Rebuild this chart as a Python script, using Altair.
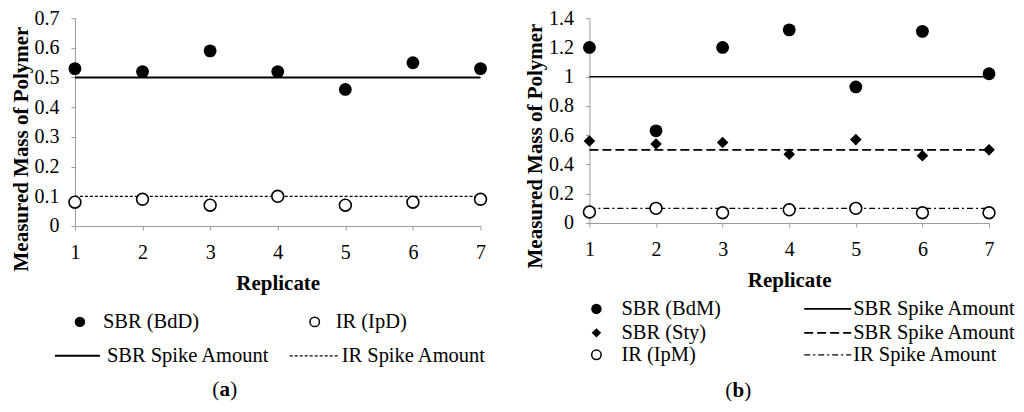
import altair as alt
import pandas as pd

FONT = "Liberation Serif"
GRAY = "#9a9a9a"

# ---------------- data ----------------
replicates = [1, 2, 3, 4, 5, 6, 7]

# panel (a)
a_sbr_bdd = [0.53, 0.52, 0.59, 0.52, 0.46, 0.55, 0.53]
a_ir_ipd = [0.08, 0.09, 0.07, 0.10, 0.07, 0.08, 0.09]
a_sbr_spike = 0.5
a_ir_spike = 0.1
a_yticks = [0, 0.1, 0.2, 0.3, 0.4, 0.5, 0.6, 0.7]

# panel (b)
b_sbr_bdm = [1.20, 0.63, 1.20, 1.32, 0.93, 1.31, 1.02]
b_sbr_sty = [0.56, 0.54, 0.55, 0.47, 0.57, 0.46, 0.50]
b_ir_ipm = [0.075, 0.10, 0.07, 0.09, 0.10, 0.07, 0.07]
b_sbr_spike = 1.0
b_sty_spike = 0.5
b_ir_spike = 0.1
b_yticks = [0, 0.2, 0.4, 0.6, 0.8, 1.0, 1.2, 1.4]

# titles, legend and caption texts
y_title = "Measured Mass of Polymer"
x_title = "Replicate"
a_labels = ["SBR (BdD)", "IR (IpD)", "SBR Spike Amount", "IR Spike Amount"]
b_labels = ["SBR (BdM)", "SBR (Sty)", "IR (IpM)",
            "SBR Spike Amount", "SBR Spike Amount", "IR Spike Amount"]

# ---------------- layout ----------------
A_X0, A_X1 = 72, 478
B_X0, B_X1 = 587, 987
A_W, B_W = A_X1 - A_X0, B_X1 - B_X0
A_H, B_H = 208, 205
PLOT_TOP = 19
ROW_GAP = 58
LEG_TOP = PLOT_TOP + A_H + ROW_GAP
LEG_H = 108
COL_GAP = B_X0 - A_X1
NOVIEW = alt.ViewBackground(stroke=None)
LEG_FS = 20.5


def make_axes(yticks):
    xa = alt.Axis(values=replicates, title=x_title, grid=False,
                  domainColor=GRAY, tickColor=GRAY, tickSize=4,
                  labelFont=FONT, labelFontSize=20, labelColor="black",
                  labelPadding=13, labelFlush=False, labelOverlap=False,
                  titleFont=FONT, titleFontSize=21, titleFontWeight="bold",
                  titleColor="black", titlePadding=10)
    ya = alt.Axis(values=yticks, format="~g", title=None,
                  grid=False, domainColor=GRAY, tickColor=GRAY, tickSize=4,
                  labelFont=FONT, labelFontSize=20, labelColor="black",
                  labelPadding=12, labelOverlap=False)
    return xa, ya


def panel(point_series, rules, yticks, width, height, title_y):
    xa, ya = make_axes(yticks)
    xs = alt.Scale(domain=[replicates[0], replicates[-1]], nice=False, zero=False)
    ys = alt.Scale(domain=[yticks[0], yticks[-1]], nice=False, zero=False)
    layers = []
    for value, dash, sw in rules:
        df = pd.DataFrame({"x": [replicates[0]], "x2": [replicates[-1]], "y": [value]})
        kw = dict(color="black", strokeWidth=sw)
        if dash:
            kw["strokeDash"] = dash
        layers.append(alt.Chart(df).mark_rule(**kw).encode(
            x=alt.X("x:Q", scale=xs, axis=xa),
            x2="x2:Q",
            y=alt.Y("y:Q", scale=ys, axis=ya)))
    for values, style in point_series:
        df = pd.DataFrame({"x": replicates, "y": values})
        if style == "filled":
            m = alt.Chart(df).mark_point(shape="circle", filled=True, color="black",
                                         size=165, opacity=1)
        elif style == "diamond":
            m = alt.Chart(df).mark_point(shape="diamond", filled=True, color="black",
                                         size=135, opacity=1)
        else:
            m = alt.Chart(df).mark_point(shape="circle", fill="white", stroke="black",
                                         strokeWidth=1.6, size=140, opacity=1,
                                         fillOpacity=1)
        layers.append(m.encode(x=alt.X("x:Q", scale=xs, axis=xa),
                               y=alt.Y("y:Q", scale=ys, axis=ya)))
    # rotated y-axis title, placed a little low as in the original figure
    tdf = pd.DataFrame({"t": [y_title]})
    layers.append(alt.Chart(tdf).mark_text(angle=270, align="center", baseline="middle",
                                           font=FONT, fontSize=21, fontWeight="bold",
                                           color="black", text=y_title).encode(
        x=alt.value(-53), y=alt.value(title_y)))
    return alt.layer(*layers).properties(width=width, height=height, view=NOVIEW)


def legend(x0, x1, width, syms, lines, texts, cap):
    xs = alt.Scale(domain=[x0, x1], nice=False, zero=False)
    ys = alt.Scale(domain=[LEG_TOP + LEG_H, LEG_TOP], nice=False, zero=False)
    X = lambda f: alt.X(f, scale=xs, axis=None)
    Y = lambda f: alt.Y(f, scale=ys, axis=None)
    layers = []
    for lx1, lx2, ly, dash, sw in lines:
        df = pd.DataFrame({"x": [lx1], "x2": [lx2], "y": [ly]})
        kw = dict(color="black", strokeWidth=sw)
        if dash:
            kw["strokeDash"] = dash
        layers.append(alt.Chart(df).mark_rule(**kw).encode(x=X("x:Q"), x2="x2:Q", y=Y("y:Q")))
    for sx, sy, style in syms:
        df = pd.DataFrame({"x": [sx], "y": [sy]})
        if style == "filled":
            m = alt.Chart(df).mark_point(shape="circle", filled=True, color="black",
                                         size=110, opacity=1)
        elif style == "diamond":
            m = alt.Chart(df).mark_point(shape="diamond", filled=True, color="black",
                                         size=90, opacity=1)
        else:
            m = alt.Chart(df).mark_point(shape="circle", fill="white", stroke="black",
                                         strokeWidth=1.5, size=90, opacity=1)
        layers.append(m.encode(x=X("x:Q"), y=Y("y:Q")))
    for label, tx, ty in texts:
        df = pd.DataFrame({"x": [tx], "y": [ty]})
        layers.append(alt.Chart(df).mark_text(align="left", baseline="middle", font=FONT,
                                              fontSize=LEG_FS, color="black",
                                              text=label).encode(x=X("x:Q"), y=Y("y:Q")))
    cx, cy, letter, half = cap
    cdf = pd.DataFrame({"x": [cx], "y": [cy]})
    layers.append(alt.Chart(cdf).mark_text(align="center", baseline="middle", font=FONT,
                                           fontSize=21, fontWeight="bold", color="black",
                                           text=letter).encode(x=X("x:Q"), y=Y("y:Q")))
    layers.append(alt.Chart(cdf).mark_text(align="right", baseline="middle", font=FONT,
                                           fontSize=21, color="black", text="(",
                                           dx=-half).encode(x=X("x:Q"), y=Y("y:Q")))
    layers.append(alt.Chart(cdf).mark_text(align="left", baseline="middle", font=FONT,
                                           fontSize=21, color="black", text=")",
                                           dx=half).encode(x=X("x:Q"), y=Y("y:Q")))
    return alt.layer(*layers).properties(width=width, height=LEG_H, view=NOVIEW)


pa = panel([(a_sbr_bdd, "filled"), (a_ir_ipd, "open")],
           [(a_sbr_spike, None, 2), (a_ir_spike, [3, 2], 1.3)],
           a_yticks, A_W, A_H, 131)
pb = panel([(b_sbr_bdm, "filled"), (b_sbr_sty, "diamond"), (b_ir_ipm, "open")],
           [(b_sbr_spike, None, 1.6), (b_sty_spike, [9, 4], 1.6), (b_ir_spike, [6, 3, 2, 3], 1.4)],
           b_yticks, B_W, B_H, 128)

la = legend(A_X0, A_X1, A_W,
            [(77, 323, "filled"), (312, 323, "open")],
            [(52, 97, 357, None, 2), (287, 337, 357, [3, 2], 1.3)],
            [(a_labels[0], 100, 323), (a_labels[1], 333, 323),
             (a_labels[2], 104, 357), (a_labels[3], 339, 357)],
            (222, 391, "a", 5.5))
lb = legend(B_X0, B_X1, B_W,
            [(594, 310, "filled"), (594, 334, "diamond"), (594, 356, "open")],
            [(802, 849, 310, None, 1.6), (802, 849, 334, [9, 4], 1.6),
             (802, 849, 356, [6, 3, 2, 3], 1.4)],
            [(b_labels[0], 619, 310), (b_labels[1], 619, 334), (b_labels[2], 619, 356),
             (b_labels[3], 851, 310), (b_labels[4], 851, 334), (b_labels[5], 851, 356)],
            (736, 392, "b", 6))

chart = alt.concat(pa, pb, la, lb, columns=2,
                   spacing={"row": ROW_GAP, "column": COL_GAP},
                   bounds="flush").properties(
    padding={"left": 2, "top": 0, "right": 0, "bottom": 0}
).configure(background="white", font=FONT).configure_view(stroke=None).configure_text(font=FONT)

chart.save("out.html", embed_options={"renderer": "svg", "actions": False})
